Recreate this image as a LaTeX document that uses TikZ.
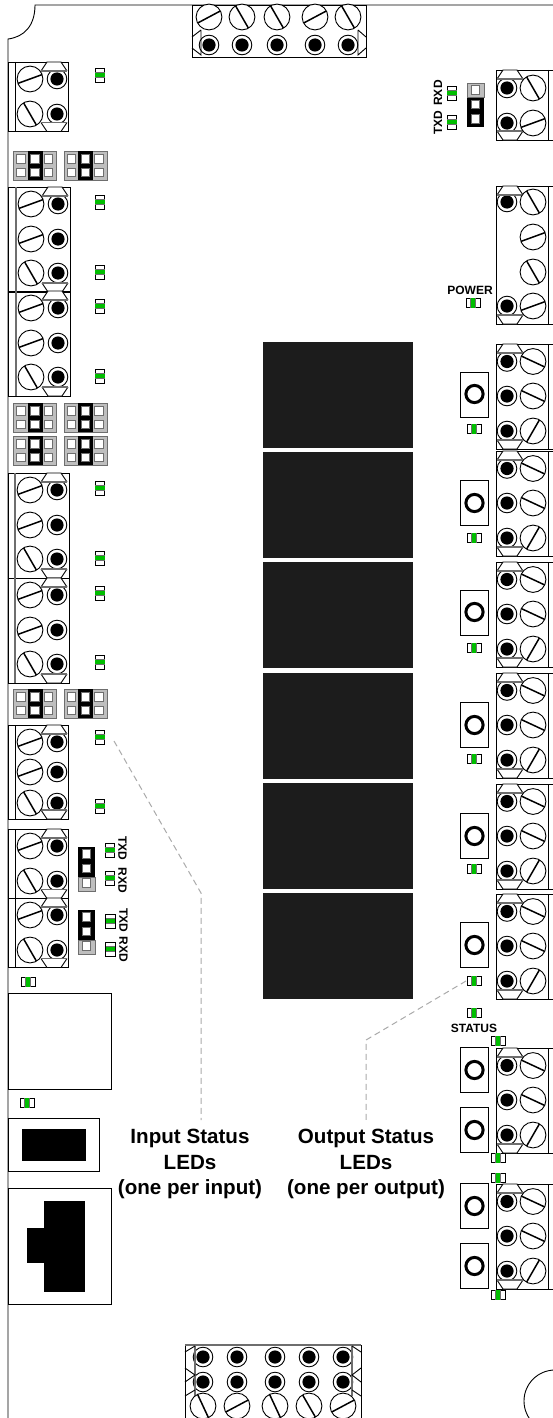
\documentclass[tikz,border=0pt]{standalone}
\usepackage{xcolor}
\usepackage{fontspec}
\setmainfont{Liberation Sans}
\usetikzlibrary{calc}
\definecolor{ledgreen}{RGB}{0,190,0}
\definecolor{jumpgray}{RGB}{190,190,190}
\definecolor{edgegray}{RGB}{110,110,110}
\definecolor{relayblack}{RGB}{28,28,28}
\definecolor{leadergray}{RGB}{170,170,170}
\tikzset{
  edge/.style={draw=black,line width=0.9pt},
  slot/.style={draw=black,line width=1.5pt},
  leader/.style={draw=leadergray,line width=1pt,dash pattern=on 6pt off 4pt},
  biglabel/.style={align=center,font=\fontsize{20.6}{25.5}\selectfont\bfseries},
  smalllabel/.style={font=\fontsize{12}{12}\selectfont\bfseries}
}
\newcommand{\screwhead}[3]{
  \draw [edge,fill=white] (#1,#2) circle (12.9);
  \draw [slot] (#1,#2) +(#3:12.7) -- +(#3+180:12.7);
}
\newcommand{\pinhole}[2]{
  \draw [edge,fill=white] (#1,#2) circle (9.8);
  \fill [black] (#1,#2) circle (6.6);
}
\newcommand{\capup}[2]{
  \draw [edge,fill=white] (#1,#2+9) -- (#1+6,#2) -- (#1+20,#2) -- (#1+26,#2+9);
  \draw [edgegray,line width=1.6pt] (#1,#2+9) -- (#1+26,#2+9);
}
\newcommand{\capdown}[2]{
  \draw [edge,fill=white] (#1,#2-9) -- (#1+6,#2) -- (#1+20,#2) -- (#1+26,#2-9);
  \draw [edgegray,line width=1.6pt] (#1,#2-9) -- (#1+26,#2-9);
}
\newcommand{\vled}[2]{
  \draw [edge,fill=white] (#1-4.7,#2-7) rectangle (#1+4.7,#2+7);
  \fill [edgegray] (#1-4.7,#2-3.3) rectangle (#1+4.7,#2+3.3);
  \fill [ledgreen] (#1-4.7,#2-2) rectangle (#1+4.7,#2+2);
}
\newcommand{\hled}[2]{
  \draw [edge,fill=white] (#1-7,#2-4.7) rectangle (#1+7,#2+4.7);
  \fill [edgegray] (#1-3.3,#2-4.7) rectangle (#1+3.3,#2+4.7);
  \fill [ledgreen] (#1-2,#2-4.7) rectangle (#1+2,#2+4.7);
}
\newcommand{\jumphole}[2]{
  \draw [edgegray,fill=white,line width=1pt] (#1-4.2,#2-4.2) rectangle (#1+4.2,#2+4.2);
}
\newcommand{\jumpsix}[2]{
  \draw [edgegray,fill=jumpgray,line width=0.9pt] (#1,#2) rectangle (#1+43,#2+29);
  \fill [black] (#1+14,#2) rectangle (#1+29,#2+29);
  \foreach \hx in {7.5,21.5,35} {
    \foreach \hy in {8,21.5} {
      \jumphole{#1+\hx}{#2+\hy}
    }
  }
}
\newcommand{\jumpthree}[3]{
  \fill [black] (#1,#2) rectangle (#1+17,#2+44);
  \draw [edgegray,fill=jumpgray,line width=0.9pt] (#1,#2+#3*15) rectangle (#1+17,#2+#3*15+14);
  \foreach \hy in {7,21.5,36} {
    \jumphole{#1+8.5}{#2+\hy}
  }
}
\newcommand{\relayblock}[1]{
  \fill [relayblack] (263,#1) rectangle (413,#1+106);
}
\newcommand{\pushbutton}[2]{
  \draw [edge] (460.5,#1) rectangle (488.5,#1+45);
  \draw [black,line width=3pt] (474.5,#2) circle (8.6);
}
\newcommand{\rightblock}[1]{
  \draw [edge] (496,#1) rectangle (560,#1+105);
  \draw [edge] (548,#1) -- (548,#1+105);
  \pinhole{507}{#1+17.5}
  \pinhole{507}{#1+52}
  \pinhole{507}{#1+87}
  \capup{497}{#1}
  \capdown{497}{#1+105}
  \screwhead{533}{#1+17.5}{25}
  \screwhead{533}{#1+52}{25}
  \screwhead{533}{#1+87}{-60}
}
\newcommand{\leftthree}[2]{
  \draw [edge] (8,#2) rectangle (69+#1,#2+105);
  \draw [edgegray,line width=1.4pt] (15+#1,#2) -- (15+#1,#2+105);
  \pinhole{57+#1}{#2+17}
  \pinhole{57+#1}{#2+52}
  \pinhole{57+#1}{#2+86}
  \capup{41+#1}{#2}
  \capdown{41+#1}{#2+105}
  \screwhead{30+#1}{#2+17}{-20}
  \screwhead{30+#1}{#2+52}{-20}
  \screwhead{30+#1}{#2+86}{60}
}
\newcommand{\lefttwo}[1]{
  \draw [edge] (8,#1) rectangle (68,#1+69.5);
  \draw [edge] (15,#1) -- (15,#1+69.5);
  \pinhole{57}{#1+17}
  \pinhole{57}{#1+52}
  \capup{41}{#1}
  \capdown{41}{#1+69.5}
  \screwhead{30}{#1+17}{-20}
  \screwhead{30}{#1+52}{60}
}
\begin{document}
\begin{tikzpicture}[x=1pt,y=-1pt]
  \tikzstyle{every node}+=[inner sep=0pt]
  \clip (0,0) rectangle (553,1418);
  \fill [white] (0,0) rectangle (553,1418);
  \draw [edge] (553,5) -- (35,5) .. controls (35,26) and (24,37) .. (8,39) -- (8,1418);
  \draw [edge] (555,1401) circle (31);
  \draw [edge] (192,5) rectangle (366,57);
  \foreach \px in {209,242,277,315,348} {
    \pinhole{\px}{45}
  }
  \screwhead{209}{17}{-28}
  \screwhead{242}{17}{60}
  \screwhead{277}{17}{60}
  \screwhead{315}{17}{-28}
  \screwhead{348}{17}{60}
  \draw [edge] (201,30) -- (192,37) (192,48) -- (201,55) -- (201,30);
  \draw [edge] (358,30) -- (366,37) (366,48) -- (358,55) -- (358,30);
  \draw [edge] (185,1418) -- (185,1345) -- (361,1345) -- (361,1418);
  \draw [edgegray,line width=1.4pt] (185,1345) -- (361,1345);
  \foreach \px in {203,237,275,309,343} {
    \pinhole{\px}{1357}
    \pinhole{\px}{1382}
  }
  \draw [edgegray,line width=1.4pt] (195,1345) -- (195,1396);
  \draw [edgegray,line width=1.4pt] (352,1345) -- (352,1396);
  \draw [edge] (185,1352) -- (195,1346) (185,1368) -- (195,1375) -- (185,1382) (185,1396) -- (195,1390);
  \draw [edge] (361,1352) -- (352,1346) (361,1368) -- (352,1375) -- (361,1382) (361,1396) -- (352,1390);
  \screwhead{203}{1406}{65}
  \screwhead{237}{1406}{-28}
  \screwhead{275}{1406}{65}
  \screwhead{309}{1406}{60}
  \screwhead{343}{1406}{-28}
  \lefttwo{62}
  \leftthree{1}{187}
  \leftthree{1}{291}
  \leftthree{0}{473}
  \leftthree{0}{578}
  \draw [edge] (8,725) rectangle (68,819);
  \draw [edge] (15,725) -- (15,819);
  \pinhole{57}{742}
  \pinhole{57}{772}
  \pinhole{57}{803}
  \capup{41}{725}
  \capdown{41}{819}
  \screwhead{30}{742}{-20}
  \screwhead{30}{772}{-20}
  \screwhead{30}{803}{60}
  \lefttwo{829}
  \lefttwo{898}
  \jumpsix{13.5}{151}
  \jumpsix{64}{151}
  \jumpsix{13.5}{403}
  \jumpsix{64}{403}
  \jumpsix{13.5}{436}
  \jumpsix{64}{436}
  \jumpsix{13.5}{689}
  \jumpsix{64}{689}
  \foreach \ly in {75,202,272,306,376,488,558,593,662,737,806} {
    \vled{100}{\ly}
  }
  \vled{110}{850}
  \vled{110}{878}
  \vled{110.5}{921}
  \vled{110.5}{949}
  \jumpthree{78}{847}{2}
  \jumpthree{78}{910}{2}
  \node [smalllabel,rotate=-90] (txdone) at (122.5,848) {TXD};
  \node [smalllabel,rotate=-90] (rxdone) at (122.5,880) {RXD};
  \node [smalllabel,rotate=-90] (txdtwo) at (123.5,920) {TXD};
  \node [smalllabel,rotate=-90] (rxdtwo) at (123.5,949) {RXD};
  \hled{28}{982}
  \draw [edge] (8,993) rectangle (111,1089);
  \hled{27}{1103}
  \draw [edge] (8,1118) rectangle (99.5,1171);
  \fill [black] (22,1129) rectangle (86,1161);
  \draw [edge] (8,1188) rectangle (111,1304);
  \fill [black] (44,1201) rectangle (85,1292);
  \fill [black] (27,1228) rectangle (44,1263);
  \foreach \ry in {342,452,562,673,783,893} {
    \relayblock{\ry}
  }
  \draw [edge] (496,70) rectangle (560,140);
  \draw [edge] (548,70) -- (548,140);
  \pinhole{507}{88}
  \pinhole{507}{123}
  \capup{497}{70}
  \capdown{497}{140}
  \screwhead{533}{88}{60}
  \screwhead{533}{123}{-20}
  \vled{452}{93}
  \vled{452}{122}
  \jumpthree{467}{83}{0}
  \node [smalllabel,rotate=90] (rxdtop) at (438,93) {RXD};
  \node [smalllabel,rotate=90] (txdtop) at (438,123) {TXD};
  \draw [edge] (496,186) rectangle (560,324);
  \draw [edge] (548,186) -- (548,324);
  \pinhole{507}{202}
  \pinhole{507}{306}
  \capup{497}{186}
  \capdown{497}{324}
  \screwhead{533}{202}{60}
  \screwhead{533}{237}{-20}
  \screwhead{533}{272}{60}
  \screwhead{533}{306}{-20}
  \node [smalllabel] (powerlabel) at (470,290) {POWER};
  \hled{473}{303}
  \foreach \ry in {344,451,562,673,784,894,1048,1184} {
    \rightblock{\ry}
  }
  \pushbutton{372}{394}
  \pushbutton{480}{503}
  \pushbutton{590}{612}
  \pushbutton{702}{725}
  \pushbutton{813}{836}
  \pushbutton{922}{945}
  \pushbutton{1047}{1070}
  \pushbutton{1107}{1130}
  \pushbutton{1183}{1206}
  \pushbutton{1243}{1266}
  \foreach \ly in {429,538,648,759,869,981,1013} {
    \hled{474}{\ly}
  }
  \node [smalllabel] (statuslabel) at (474,1028) {STATUS};
  \foreach \ly in {1041,1158,1178,1295} {
    \hled{498}{\ly}
  }
  \node [biglabel] (inputlabel) at (190,1164) {Input Status\\LEDs\\(one per input)};
  \node [biglabel] (outputlabel) at (366,1164) {Output Status\\LEDs\\(one per output)};
  \coordinate (inputled) at (114,741);
  \coordinate (inputbend) at (201,893);
  \coordinate (inputend) at (201,1120);
  \coordinate (outputled) at (466,981);
  \coordinate (outputbend) at (366,1040);
  \coordinate (outputend) at (366,1122);
  \draw [leader] (inputled) -- (inputbend) -- (inputend);
  \draw [leader] (outputled) -- (outputbend) -- (outputend);
\end{tikzpicture}
\end{document}
